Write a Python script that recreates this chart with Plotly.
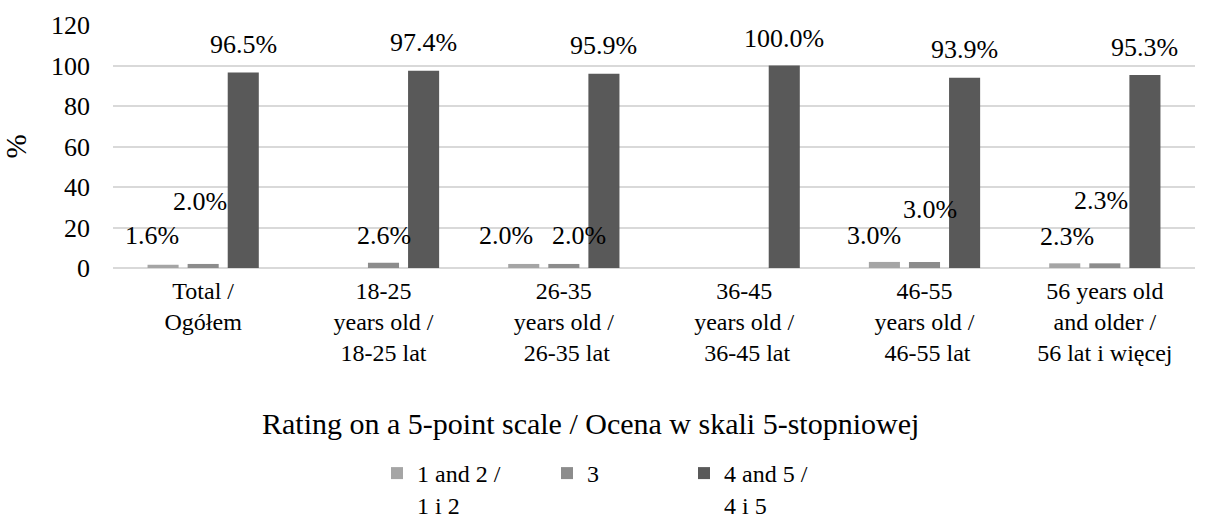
import plotly.graph_objects as go

categories = [
    "Total /<br>Ogółem",
    "18-25<br>years old /<br>18-25 lat",
    "26-35<br>years old /<br> 26-35 lat",
    "36-45<br>years old /<br> 36-45 lat",
    "46-55<br>years old /<br> 46-55 lat",
    "56 years old<br>and older /<br>56 lat i więcej",
]
series_names = ["1 and 2 /<br>1 i 2", "3", "4 and 5 /<br>4 i 5"]
vals_12 = [1.6, 0.0, 2.0, 0.0, 3.0, 2.3]
vals_3 = [2.0, 2.6, 2.0, 0.0, 3.0, 2.3]
vals_45 = [96.5, 97.4, 95.9, 100.0, 93.9, 95.3]
y_ticks = [0, 20, 40, 60, 80, 100, 120]
x_title = "Rating on a 5-point scale / Ocena w skali 5-stopniowej"
y_title = "%"

# styling (label nudges in pixels, per series per category)
colors = ["#a5a5a5", "#8c8c8c", "#595959"]
label_dx = [[-11, 0, -18, 0, -10, 2], [-3, 0, 15, 0, 5, -4], [0, 0, 0, 0, 0, 0]]
label_dy = [[29, 27, 28, 27, 26, 27], [62, 27, 28, 27, 52, 63], [28, 28, 28, 27, 28, 28]]

FONT = "Liberation Serif"
W, H = 1205, 522
ML, MT = 113, 25
PLOT_W, PLOT_H = 1082, 243
MR = W - ML - PLOT_W
MB = H - MT - PLOT_H
BARGAP, GROUPGAP = 0.333, 0.225

fig = go.Figure()
all_vals = [vals_12, vals_3, vals_45]
legends = ["legend", "legend2", "legend3"]
for i, (name, vals) in enumerate(zip(series_names, all_vals)):
    fig.add_trace(go.Bar(
        x=categories, y=vals, name=name, marker_color=colors[i],
        marker_line_width=0, legend=legends[i],
    ))

slot = PLOT_W / len(categories) * (1 - BARGAP) / 3
annotations = []
for i, vals in enumerate(all_vals):
    for j, v in enumerate(vals):
        if v == 0:
            continue
        annotations.append(dict(
            x=categories[j], y=v, xref="x", yref="y",
            text=f"{v:.1f}%", showarrow=False,
            xshift=(i - 1) * slot + label_dx[i][j], yshift=label_dy[i][j],
            yanchor="middle", xanchor="center",
            font=dict(family=FONT, size=26, color="#000000"),
        ))
# x-axis title (sits left of the plot centre, as in the source)
annotations.append(dict(
    text=x_title, xref="paper", yref="paper",
    x=(590 - ML) / PLOT_W, y=0, xanchor="center", yanchor="top",
    yshift=-137, showarrow=False,
    font=dict(family=FONT, size=30, color="#000000"),
))

legend_common = dict(
    orientation="h", xref="container", yref="container",
    yanchor="top", xanchor="left", valign="top",
    font=dict(family=FONT, size=24, color="#000000"),
    bgcolor="rgba(0,0,0,0)", itemclick=False,
)
LEG_Y = 1 - 451 / H
fig.update_layout(
    width=W, height=H,
    margin=dict(l=ML, r=MR, t=MT, b=MB, autoexpand=False),
    paper_bgcolor="white", plot_bgcolor="white",
    barmode="group", bargap=BARGAP, bargroupgap=GROUPGAP,
    font=dict(family=FONT, size=24, color="#000000"),
    showlegend=True,
    legend=dict(x=377 / W, y=LEG_Y, **legend_common),
    legend2=dict(x=547 / W, y=LEG_Y, **legend_common),
    legend3=dict(x=684 / W, y=LEG_Y, **legend_common),
    annotations=annotations,
    xaxis=dict(
        type="category", showgrid=False, showline=False, ticks="",
        automargin=False, ticklabelstandoff=6,
        tickfont=dict(family=FONT, size=24),
    ),
    yaxis=dict(
        range=[0, 120], tickvals=y_ticks, showgrid=True,
        gridcolor="#d9d9d9", gridwidth=1.5, zeroline=True,
        zerolinecolor="#d9d9d9", zerolinewidth=1.5, showline=False,
        automargin=False, ticks="", ticklabelstandoff=22,
        tickfont=dict(family=FONT, size=26),
        title=dict(text=y_title, font=dict(family=FONT, size=29), standoff=20),
    ),
)

# remove the page's default 8px body margin so the figure fills the window
fig.write_html(
    "out.html",
    config={"displayModeBar": False},
    post_script="document.body.style.margin='0px';",
)
